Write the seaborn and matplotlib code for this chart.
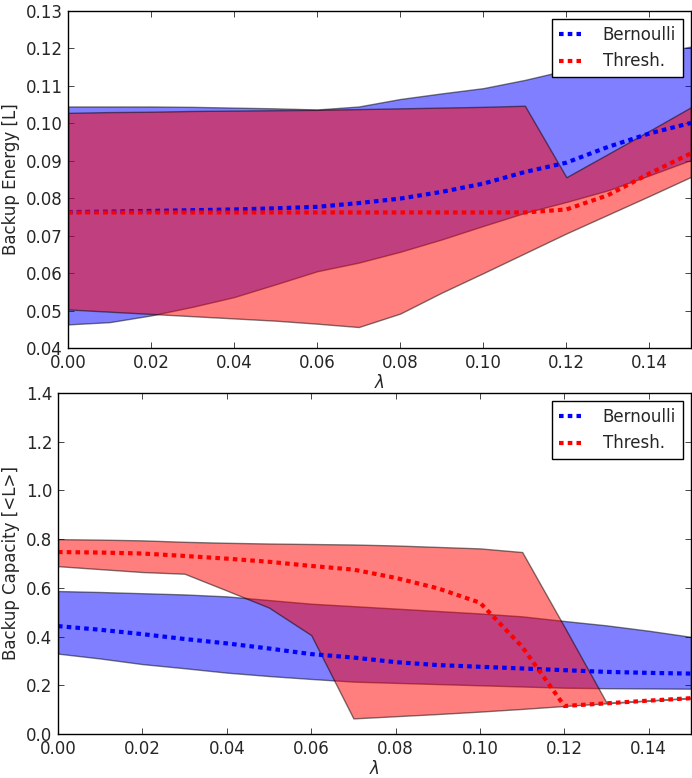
import numpy as np
import matplotlib
matplotlib.use("Agg")
import matplotlib.pyplot as plt
import seaborn as sns

# lambda grid shared by both panels
lam = [0.00, 0.01, 0.02, 0.03, 0.04, 0.05, 0.06, 0.07,
       0.08, 0.09, 0.10, 0.11, 0.12, 0.13, 0.14, 0.15]

# Backup energy (top panel)
energy_bern_mean = [0.0763, 0.0764, 0.0766, 0.0768, 0.0770, 0.0773, 0.0777, 0.0787,
                    0.0799, 0.0817, 0.0839, 0.0870, 0.0895, 0.0937, 0.0973, 0.1001]
energy_bern_hi = [0.1045, 0.1045, 0.1045, 0.1044, 0.1042, 0.1040, 0.1037, 0.1045,
                  0.1065, 0.1080, 0.1094, 0.1116, 0.1142, 0.1165, 0.1185, 0.1205]
energy_bern_lo = [0.0463, 0.0469, 0.0487, 0.0510, 0.0536, 0.0570, 0.0605, 0.0628,
                  0.0657, 0.0690, 0.0726, 0.0761, 0.0790, 0.0821, 0.0861, 0.0902]
energy_thr_mean = [0.0762, 0.0762, 0.0762, 0.0762, 0.0762, 0.0762, 0.0762, 0.0762,
                   0.0762, 0.0762, 0.0762, 0.0762, 0.0770, 0.0808, 0.0866, 0.0920]
energy_thr_hi = [0.1028, 0.1030, 0.1031, 0.1033, 0.1034, 0.1035, 0.1036, 0.1038,
                 0.1040, 0.1042, 0.1044, 0.1047, 0.0856, 0.0918, 0.0980, 0.1043]
energy_thr_lo = [0.0503, 0.0497, 0.0491, 0.0485, 0.0479, 0.0473, 0.0465, 0.0456,
                 0.0492, 0.0548, 0.0600, 0.0653, 0.0706, 0.0756, 0.0806, 0.0857]

# Backup capacity (bottom panel)
cap_bern_mean = [0.443, 0.428, 0.410, 0.390, 0.372, 0.351, 0.328, 0.314,
                 0.295, 0.283, 0.276, 0.269, 0.262, 0.255, 0.251, 0.248]
cap_bern_hi = [0.587, 0.583, 0.578, 0.573, 0.565, 0.550, 0.535, 0.525,
               0.515, 0.505, 0.495, 0.483, 0.464, 0.446, 0.424, 0.399]
cap_bern_lo = [0.330, 0.310, 0.287, 0.270, 0.252, 0.238, 0.226, 0.215,
               0.210, 0.205, 0.200, 0.195, 0.190, 0.188, 0.187, 0.186]
cap_thr_mean = [0.747, 0.745, 0.741, 0.731, 0.720, 0.707, 0.690, 0.675,
                0.641, 0.598, 0.539, 0.358, 0.115, 0.126, 0.137, 0.147]
cap_thr_hi = [0.800, 0.798, 0.795, 0.789, 0.785, 0.782, 0.780, 0.778,
              0.774, 0.768, 0.762, 0.747, 0.440, 0.128, 0.138, 0.149]
cap_thr_lo = [0.689, 0.677, 0.665, 0.658, 0.589, 0.519, 0.406, 0.064,
              0.073, 0.082, 0.092, 0.103, 0.115, 0.126, 0.137, 0.147]

sns.set_style("ticks", {"xtick.direction": "in", "ytick.direction": "in"})
plt.rcParams["font.family"] = ["DejaVu Sans"]
plt.rcParams["font.size"] = 12
plt.rcParams["mathtext.fontset"] = "dejavusans"

# square-ish dots like the old ':' style
DOT = (0, (1.1, 1.0))


def draw_panel(ax, bern, thr, ylim, yticks, ylabel):
    b_mean, b_hi, b_lo = bern
    t_mean, t_hi, t_lo = thr
    ax.fill_between(lam, b_lo, b_hi, facecolor="blue", edgecolor="black",
                    alpha=0.5, linewidth=1)
    ax.fill_between(lam, t_lo, t_hi, facecolor="red", edgecolor="black",
                    alpha=0.5, linewidth=1)
    sns.lineplot(x=lam, y=b_mean, ax=ax, color="blue", lw=3, linestyle=DOT,
                 label="Bernoulli")
    sns.lineplot(x=lam, y=t_mean, ax=ax, color="red", lw=3, linestyle=DOT,
                 label="Thresh.")

    ax.set_xlim(0, 0.15)
    ax.set_xticks(np.arange(0, 0.15, 0.02))
    ax.set_xticklabels([f"{v:.2f}" for v in np.arange(0, 0.15, 0.02)])
    ax.set_ylim(*ylim)
    ax.set_yticks(yticks)
    ax.set_xlabel(r"$\lambda$", fontsize=12, labelpad=2)
    ax.set_ylabel(ylabel, fontsize=12)
    ax.tick_params(axis="both", which="both", direction="in", top=True,
                   right=True, length=4, width=0.6, labelsize=12, pad=4)
    for sp in ax.spines.values():
        sp.set_linewidth(1.0)
        sp.set_color("black")

    leg = ax.legend(loc="upper right", fancybox=False, framealpha=1,
                    edgecolor="black", handlelength=1.35, handletextpad=1.3,
                    borderpad=0.4, labelspacing=0.5, fontsize=12)
    leg.get_frame().set_linewidth(1.0)


fig = plt.figure(figsize=(6.92, 7.78), dpi=100)

ax1 = fig.add_axes([68 / 692, (778 - 348) / 778, 623 / 692, 337 / 778])
draw_panel(ax1,
           (energy_bern_mean, energy_bern_hi, energy_bern_lo),
           (energy_thr_mean, energy_thr_hi, energy_thr_lo),
           (0.04, 0.13), np.arange(0.04, 0.1301, 0.01), "Backup Energy [L]")
ax1.set_yticklabels([f"{v:.2f}" for v in np.arange(0.04, 0.1301, 0.01)])

ax2 = fig.add_axes([58 / 692, (778 - 734) / 778, 633 / 692, 341 / 778])
draw_panel(ax2,
           (cap_bern_mean, cap_bern_hi, cap_bern_lo),
           (cap_thr_mean, cap_thr_hi, cap_thr_lo),
           (0.0, 1.4), np.arange(0, 1.41, 0.2), "Backup Capacity [<L>]")
ax2.set_yticklabels([f"{v:.1f}" for v in np.arange(0, 1.41, 0.2)])

fig.savefig("out.png", dpi=100)
